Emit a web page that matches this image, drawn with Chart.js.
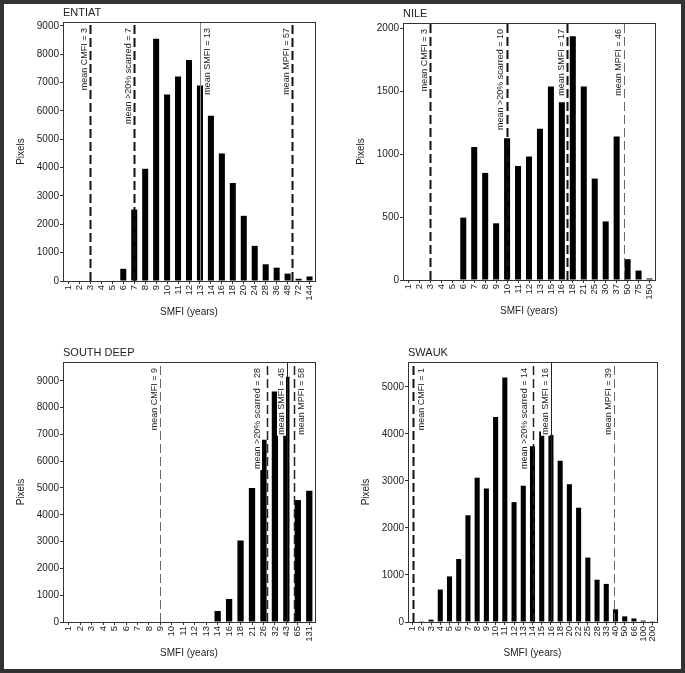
<!DOCTYPE html>
<html>
<head>
<meta charset="utf-8">
<script src="https://cdn.jsdelivr.net/npm/chart.js@4.4.1/dist/chart.umd.min.js"></script>
<style>
  html, body { margin: 0; padding: 0; background: #fff; }
  #frame { position: absolute; left: 0; top: 0; width: 685px; height: 673px; box-sizing: border-box; border: 4px solid #333; z-index: 2; pointer-events: none; }
  canvas { position: absolute; z-index: 1; }
</style>
</head>
<body>
<div id="frame"></div>
<canvas id="c-entiat"></canvas>
<canvas id="c-nile"></canvas>
<canvas id="c-southdeep"></canvas>
<canvas id="c-swauk"></canvas>
<script>
// SMFI histograms for four sites, with mean fire-interval reference lines.

const meanNames = ['mean CMFI', 'mean >20% scarred', 'mean SMFI', 'mean MPFI'];

const entiatYears = [1, 2, 3, 4, 5, 6, 7, 8, 9, 10, 11, 12, 13, 14, 16, 18, 20, 24, 28, 36, 48, 72, 144];
const entiatPixels = [0, 0, 0, 0, 0, 430, 2520, 3960, 8550, 6580, 7220, 7800, 6900, 5830, 4500, 3460, 2300, 1240, 590, 470, 260, 80, 160];
const entiatMeans = [3, 7, 13, 57];
const entiatTicks = [0, 1000, 2000, 3000, 4000, 5000, 6000, 7000, 8000, 9000];

const nileYears = [1, 2, 3, 4, 5, 6, 7, 8, 9, 10, 11, 12, 13, 15, 16, 18, 21, 25, 30, 37, 50, 75, 150];
const nilePixels = [0, 0, 0, 0, 0, 495, 1055, 850, 450, 1125, 905, 980, 1200, 1535, 1410, 1935, 1535, 805, 465, 1140, 165, 75, 12];
const nileMeans = [3, 10, 17, 46];
const nileTicks = [0, 500, 1000, 1500, 2000];

const southDeepYears = [1, 2, 3, 4, 5, 6, 7, 8, 9, 10, 11, 12, 13, 14, 16, 18, 21, 26, 32, 43, 65, 131];
const southDeepPixels = [0, 0, 0, 0, 0, 0, 0, 0, 0, 0, 0, 0, 0, 410, 860, 3040, 5000, 6800, 8600, 9150, 4550, 4900];
const southDeepMeans = [9, 28, 45, 58];
const southDeepTicks = [0, 1000, 2000, 3000, 4000, 5000, 6000, 7000, 8000, 9000];

const swaukYears = [1, 2, 3, 4, 5, 6, 7, 8, 9, 10, 11, 12, 13, 14, 15, 16, 18, 20, 22, 25, 28, 33, 40, 50, 66, 100, 200];
const swaukPixels = [0, 5, 50, 690, 970, 1340, 2270, 3070, 2840, 4360, 5200, 2550, 2900, 3740, 4050, 3980, 3430, 2930, 2430, 1370, 900, 810, 270, 120, 75, 30, 5];
const swaukMeans = [1, 14, 16, 39];
const swaukTicks = [0, 1000, 2000, 3000, 4000, 5000];

const FONT = '"Liberation Sans", Arial, sans-serif';
const INK = '#222';
const Y_W = 60;      // width reserved for y ticks + title
const X_H = 42;      // height reserved for x ticks + title
const PAD_TOP = 22;
const PAD_RIGHT = 10;

const DASH_BLACK = { color: '#111', width: 2, dash: [9, 4] };
const DASH_MID = { color: '#222', width: 1.5, dash: [9, 4] };
const DASH_GRAY = { color: '#666', width: 1, dash: [9, 4] };
const SOLID_GRAY = { color: '#888', width: 1, dash: [] };
const SOLID_BLACK = { color: '#222', width: 1, dash: [] };

// labelOffsets: horizontal shift of each rotated label from its line (neg = left)
const panels = [
  {
    id: 'c-entiat', title: 'ENTIAT', cats: entiatYears, values: entiatPixels, means: entiatMeans, yTicks: entiatTicks,
    yMax: 9140, area: { left: 63, top: 22, right: 315, bottom: 281 },
    lineStyles: [DASH_BLACK, DASH_BLACK, SOLID_GRAY, DASH_BLACK], labelOffsets: [-6, -6, 7, -6]
  },
  {
    id: 'c-nile', title: 'NILE', cats: nileYears, values: nilePixels, means: nileMeans, yTicks: nileTicks,
    yMax: 2040, area: { left: 403, top: 23, right: 655, bottom: 280 },
    lineStyles: [DASH_BLACK, DASH_BLACK, DASH_BLACK, DASH_GRAY], labelOffsets: [-6, -7, -6, -6]
  },
  {
    id: 'c-southdeep', title: 'SOUTH DEEP', cats: southDeepYears, values: southDeepPixels, means: southDeepMeans, yTicks: southDeepTicks,
    yMax: 9700, area: { left: 63, top: 362, right: 315, bottom: 622 },
    lineStyles: [DASH_GRAY, DASH_MID, SOLID_BLACK, DASH_MID], labelOffsets: [-6, -10, -6, 7]
  },
  {
    id: 'c-swauk', title: 'SWAUK', cats: swaukYears, values: swaukPixels, means: swaukMeans, yTicks: swaukTicks,
    yMax: 5530, area: { left: 408, top: 362, right: 657, bottom: 622 },
    lineStyles: [DASH_BLACK, DASH_MID, SOLID_BLACK, DASH_GRAY], labelOffsets: [8, -9, -6, -6]
  }
];

// fractional category index for a mean value (linear between neighbouring bins)
function meanPos(cats, v) {
  const i = cats.indexOf(v);
  if (i >= 0) return i;
  for (let k = 0; k < cats.length - 1; k++) {
    if (v > cats[k] && v < cats[k + 1]) return k + (v - cats[k]) / (cats[k + 1] - cats[k]);
  }
  return v < cats[0] ? 0 : cats.length - 1;
}

function makeDecor(p) {
  return {
    id: 'decor',
    afterDatasetsDraw(chart) {
      const ctx = chart.ctx;
      const a = chart.chartArea;
      const xs = chart.scales.x;

      // reference lines
      ctx.save();
      ctx.beginPath();
      ctx.rect(a.left, a.top, a.right - a.left, a.bottom - a.top);
      ctx.clip();
      p.means.forEach(function (m, i) {
        const st = p.lineStyles[i];
        const x = Math.round(xs.getPixelForValue(meanPos(p.cats, m))) + 0.5;
        ctx.strokeStyle = st.color;
        ctx.lineWidth = st.width;
        ctx.setLineDash(st.dash);
        ctx.beginPath();
        ctx.moveTo(x, a.bottom);
        ctx.lineTo(x, a.top);
        ctx.stroke();
      });
      ctx.restore();

      // rotated labels on small white boxes
      ctx.save();
      ctx.font = '9px ' + FONT;
      p.means.forEach(function (m, i) {
        const x = Math.round(xs.getPixelForValue(meanPos(p.cats, m))) + 0.5;
        const txt = meanNames[i] + ' = ' + m;
        const w = ctx.measureText(txt).width;
        const cx = x + p.labelOffsets[i];
        const y0 = a.top + 6;
        ctx.fillStyle = '#fff';
        ctx.fillRect(cx - 4.5, y0, 9, w + 1);
        ctx.save();
        ctx.translate(cx, y0);
        ctx.rotate(-Math.PI / 2);
        ctx.fillStyle = INK;
        ctx.textAlign = 'right';
        ctx.textBaseline = 'middle';
        ctx.fillText(txt, 0, 0);
        ctx.restore();
      });
      ctx.restore();

      // plot frame + panel title
      ctx.save();
      ctx.strokeStyle = '#333';
      ctx.lineWidth = 1;
      ctx.setLineDash([]);
      ctx.strokeRect(Math.round(a.left) + 0.5, Math.round(a.top) + 0.5, Math.round(a.right - a.left), Math.round(a.bottom - a.top));
      ctx.fillStyle = INK;
      ctx.font = '11px ' + FONT;
      ctx.textAlign = 'left';
      ctx.textBaseline = 'alphabetic';
      ctx.fillText(p.title, a.left, a.top - 6);
      ctx.restore();
    }
  };
}

panels.forEach(function (p) {
  const cv = document.getElementById(p.id);
  const w = (p.area.right - p.area.left) + Y_W + PAD_RIGHT;
  const h = (p.area.bottom - p.area.top) + PAD_TOP + X_H;
  cv.width = w;
  cv.height = h;
  cv.style.width = w + 'px';
  cv.style.height = h + 'px';
  cv.style.left = (p.area.left - Y_W) + 'px';
  cv.style.top = (p.area.top - PAD_TOP) + 'px';

  new Chart(cv, {
    type: 'bar',
    data: {
      labels: p.cats.map(String),
      datasets: [{
        data: p.values,
        backgroundColor: '#000',
        borderWidth: 0,
        barPercentage: 0.55,
        categoryPercentage: 1
      }]
    },
    options: {
      responsive: false,
      animation: false,
      devicePixelRatio: 1,
      layout: { padding: { left: 0, top: PAD_TOP, right: PAD_RIGHT, bottom: 0 } },
      plugins: { legend: { display: false }, tooltip: { enabled: false } },
      scales: {
        x: {
          grid: { display: true, drawOnChartArea: false, drawTicks: true, tickLength: 3, color: '#333', offset: false },
          border: { display: false },
          ticks: {
            color: INK, font: { family: FONT, size: 9.5 }, minRotation: 90, maxRotation: 90,
            autoSkip: false, padding: 1
          },
          title: { display: true, text: 'SMFI (years)', color: INK, font: { family: FONT, size: 10 }, padding: { top: 0, bottom: 5 } },
          afterFit: function (s) { s.height = X_H; }
        },
        y: {
          min: 0,
          max: p.yMax,
          grid: { display: true, drawOnChartArea: false, drawTicks: true, tickLength: 3, color: '#333' },
          border: { display: false },
          ticks: {
            color: INK, font: { family: FONT, size: 10 }, padding: 1,
            callback: function (v) { return String(v); }
          },
          afterBuildTicks: function (s) {
            s.ticks = p.yTicks.map(function (v) { return { value: v }; });
          },
          title: { display: true, text: 'Pixels', color: INK, font: { family: FONT, size: 10 }, padding: { top: 12.5, bottom: 0 } },
          afterFit: function (s) { s.width = Y_W; }
        }
      }
    },
    plugins: [makeDecor(p)]
  });
});
</script>
</body>
</html>
